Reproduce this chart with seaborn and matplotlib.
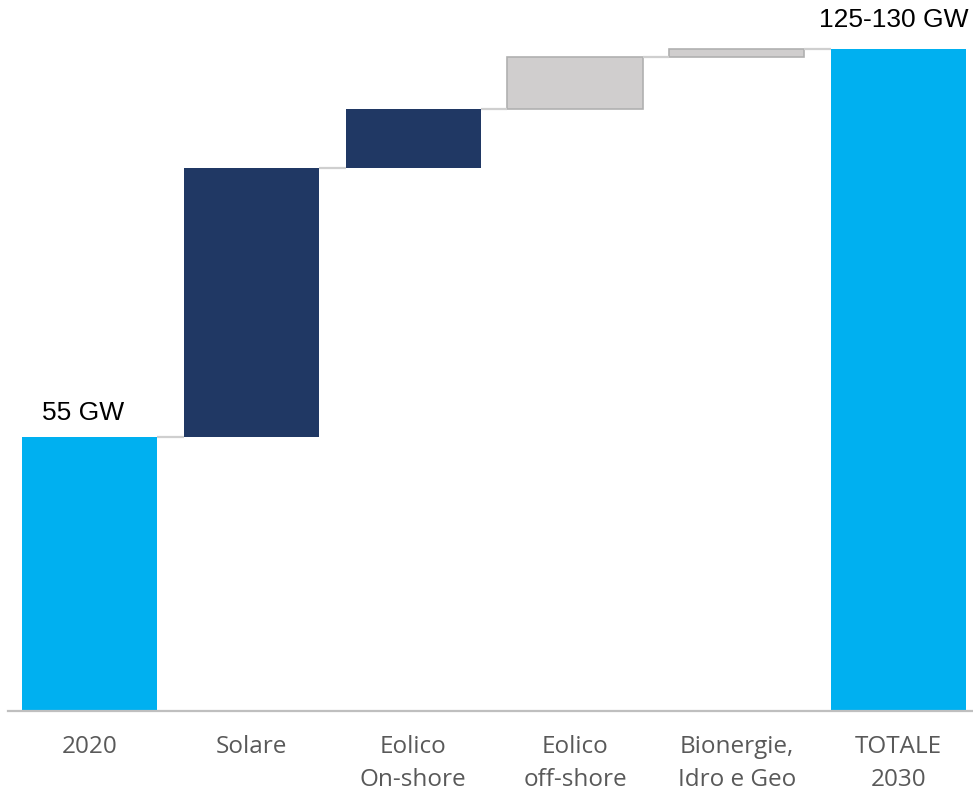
import numpy as np
import pandas as pd
import matplotlib
matplotlib.use("Agg")
import matplotlib.pyplot as plt
import seaborn as sns

# Capacity bridge 2020 -> 2030 (GW)
categories = ["2020", "Solare", "Eolico\nOn-shore", "Eolico\noff-shore",
              "Bionergie,\nIdro e Geo", "TOTALE\n2030"]
start_2020 = 55.0
increments = [52.0, 11.5, 10.0, 1.5]
total_2030 = 130.0
value_labels = ["55 GW", "125-130 GW"]

colors = ["#00B0F0", "#203864", "#203864", "#D0CECE", "#D0CECE", "#00B0F0"]
edges = ["none", "none", "none", "#B0B0B0", "#B0B0B0", "none"]

# floating segments: bottoms and heights
levels = np.cumsum([start_2020] + increments)
bottoms = [0.0] + list(levels[:-1]) + [0.0]
heights = [start_2020] + increments + [total_2030]

df = pd.DataFrame({"categoria": categories, "valore": heights})

sns.set_theme(style="white")
plt.rcParams["font.family"] = ["Open Sans", "DejaVu Sans"]

fig = plt.figure(figsize=(9.73, 7.94), dpi=100)
ax = fig.add_axes([8 / 973, 83 / 794, 1 - 8 / 973, 711 / 794])

bar_w = 0.835
sns.barplot(data=df, x="categoria", y="valore", bottom=bottoms,
            width=bar_w, color="#00B0F0", ax=ax, errorbar=None,
            linewidth=1.2)
for patch, fc, ec in zip(ax.patches, colors, edges):
    patch.set_facecolor(fc)
    patch.set_edgecolor(ec)
    if ec == "none":
        patch.set_linewidth(0)

# connector lines between consecutive bars
tops = [start_2020] + list(levels[1:])
for i, lvl in enumerate(tops):
    ax.plot([i + bar_w / 2, i + 1 - bar_w / 2], [lvl, lvl],
            color="#CFCFCF", lw=1.6, solid_capstyle="butt", zorder=1)

# value labels
label_font = dict(family=["Liberation Sans", "DejaVu Sans"], fontsize=19,
                  color="#000000", ha="center", va="bottom")
ax.text(-0.04, start_2020 + 2.3, value_labels[0], **label_font)
ax.text(4.97, total_2030 + 3.3, value_labels[1], **label_font)

ax.set_xlim(-0.505, 5.46)
ax.set_ylim(1.9, 139.5)
ax.set_xlabel("")
ax.set_ylabel("")
ax.set_yticks([])
ax.tick_params(axis="x", length=0, pad=17, labelsize=17.5, labelcolor="#595959")
for t in ax.get_xticklabels():
    t.set_linespacing(1.53)

for side in ["top", "right", "left"]:
    ax.spines[side].set_visible(False)
ax.spines["bottom"].set_color("#BFBFBF")
ax.spines["bottom"].set_linewidth(1.6)

fig.savefig("out.png", dpi=100)
